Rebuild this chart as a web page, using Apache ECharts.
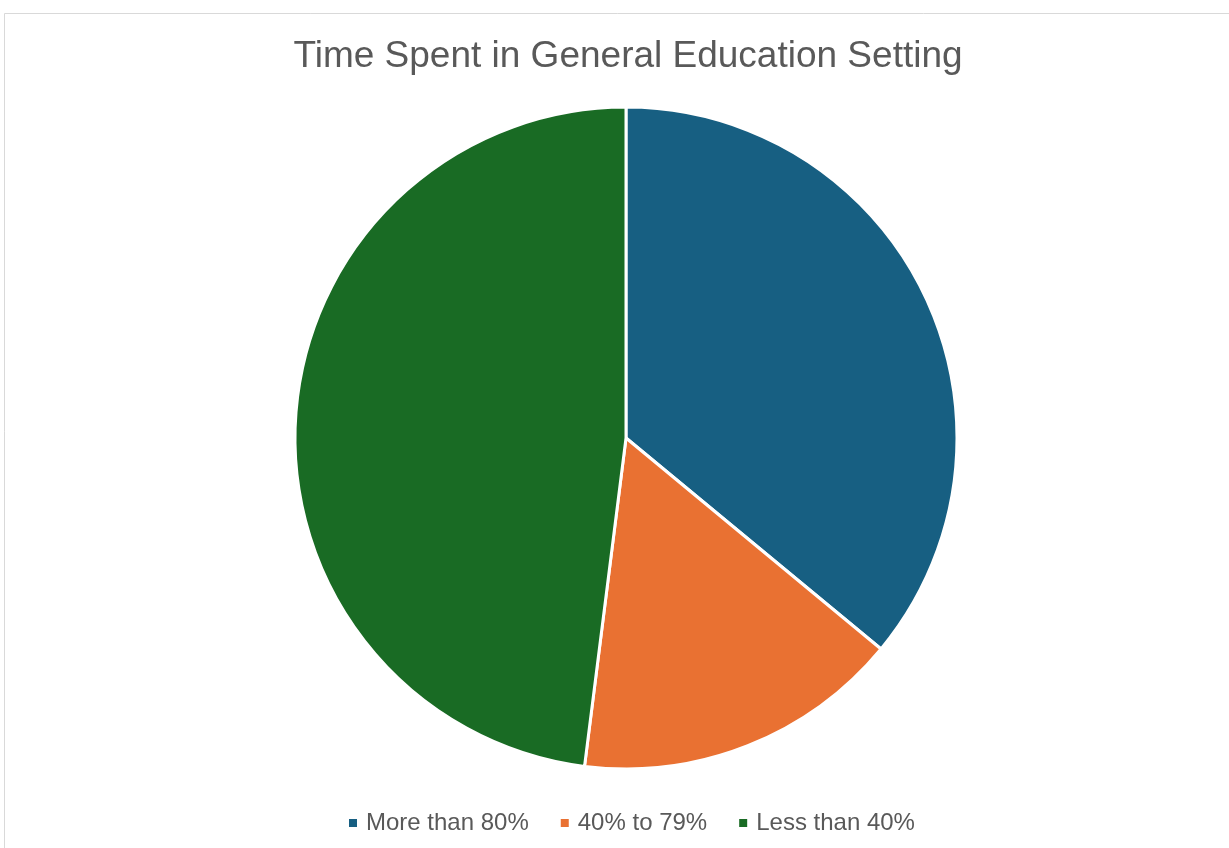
<!DOCTYPE html>
<html>
<head>
<meta charset="utf-8">
<script src="https://cdn.jsdelivr.net/npm/echarts@6/dist/echarts.min.js"></script>
<style>
  html, body { margin: 0; padding: 0; background: #ffffff; }
  #chart { width: 1229px; height: 848px; }
</style>
</head>
<body>
<div id="chart"></div>
<script>
// Share of students by time spent in the general education setting
const categories = ['More than 80%', '40% to 79%', 'Less than 40%'];
const values = [36, 16, 48];
const colors = ['#175f82', '#e97132', '#196b24'];

const chart = echarts.init(document.getElementById('chart'), null, { renderer: 'canvas' });

chart.setOption({
  backgroundColor: '#ffffff',
  animation: false,
  title: {
    text: 'Time Spent in General Education Setting',
    left: 623,
    textAlign: 'center',
    top: 33,
    textStyle: {
      fontFamily: 'Liberation Sans, Arial, sans-serif',
      fontSize: 37,
      fontWeight: 'normal',
      color: '#595959'
    }
  },
  legend: {
    bottom: 8,
    left: 342,
    itemWidth: 10,
    itemHeight: 10,
    itemGap: 30,
    icon: 'rect',
    textStyle: {
      fontFamily: 'Liberation Sans, Arial, sans-serif',
      fontSize: 24,
      color: '#595959',
      padding: [0, 0, 0, 3]
    },
    data: categories
  },
  graphic: [{
    type: 'rect',
    shape: { x: 4.5, y: 13.5, width: 1240, height: 850 },
    style: { fill: 'none', stroke: '#d9d9d9', lineWidth: 1 },
    silent: true
  }],
  series: [{
    type: 'pie',
    center: [626, 438],
    radius: [0, 331],
    startAngle: 90,
    clockwise: true,
    label: { show: false },
    labelLine: { show: false },
    itemStyle: { borderColor: '#ffffff', borderWidth: 3 },
    emphasis: { disabled: true },
    data: categories.map((name, i) => ({
      name,
      value: values[i],
      itemStyle: { color: colors[i] }
    }))
  }]
});
</script>
</body>
</html>
